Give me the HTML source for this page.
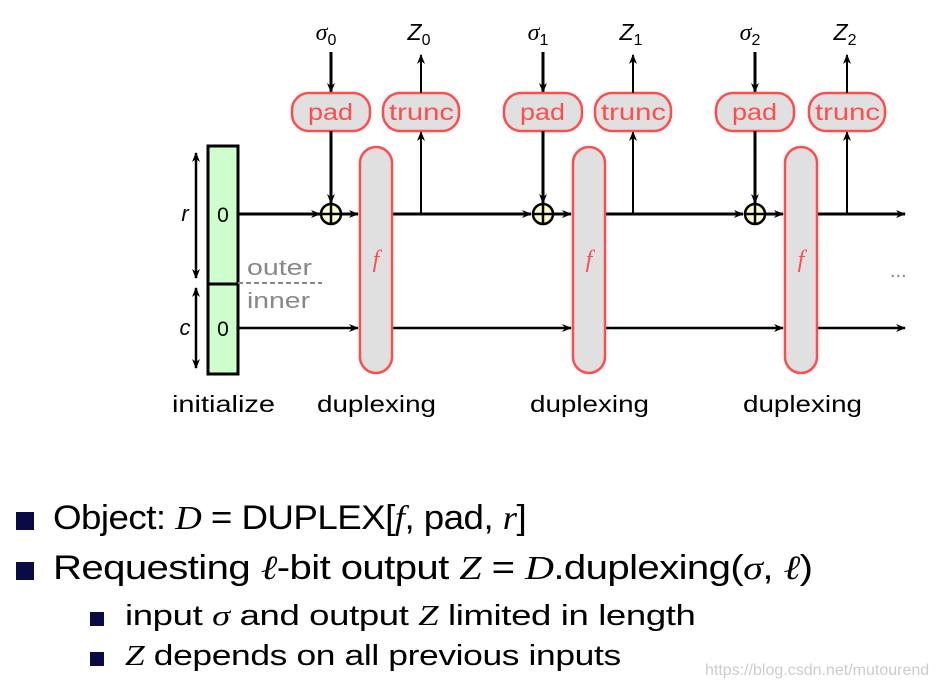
<!DOCTYPE html>
<html><head><meta charset="utf-8"><style>
body{margin:0;background:#fff;width:946px;height:691px;overflow:hidden;position:relative;font-family:"Liberation Sans","DejaVu Sans",sans-serif}
.t{position:absolute;white-space:nowrap;color:#000;transform-origin:0 0}
.sq{position:absolute;background:#0a0a45}
i{font-family:"Liberation Serif",serif}
</style></head><body>
<svg width="946" height="480" style="position:absolute;left:0;top:0" font-family="Liberation Sans, DejaVu Sans, sans-serif">
<defs><marker id="a" markerWidth="10" markerHeight="8" refX="9" refY="4" orient="auto" markerUnits="userSpaceOnUse"><path d="M0,0 L10,4 L0,8 L3,4z" fill="#000"/></marker></defs>
<rect x="208" y="146" width="30" height="228" fill="#ccffcc" stroke="#000" stroke-width="3"/>
<line x1="208" y1="284" x2="238" y2="284" stroke="#000" stroke-width="3"/>
<text x="223" y="222" font-size="21" text-anchor="middle">0</text>
<text x="223" y="336" font-size="21" text-anchor="middle">0</text>
<line x1="196" y1="214" x2="196" y2="153" stroke="#000" stroke-width="2.5" marker-end="url(#a)"/>
<line x1="196" y1="214" x2="196" y2="278" stroke="#000" stroke-width="2.5" marker-end="url(#a)"/>
<line x1="196" y1="328" x2="196" y2="288" stroke="#000" stroke-width="2.5" marker-end="url(#a)"/>
<line x1="196" y1="328" x2="196" y2="368" stroke="#000" stroke-width="2.5" marker-end="url(#a)"/>
<text x="185" y="221" font-size="22" font-style="italic" text-anchor="middle">r</text>
<text x="185" y="335" font-size="22" font-style="italic" text-anchor="middle">c</text>
<line x1="238" y1="283" x2="322" y2="283" stroke="#888" stroke-width="2" stroke-dasharray="5,3"/>
<text x="247" y="275" font-size="22" fill="#888" textLength="65" lengthAdjust="spacingAndGlyphs">outer</text>
<text x="247" y="308" font-size="22" fill="#888" textLength="63" lengthAdjust="spacingAndGlyphs">inner</text>
<text x="172" y="412" font-size="23" textLength="103" lengthAdjust="spacingAndGlyphs">initialize</text>
<line x1="238" y1="214" x2="320" y2="214" stroke="#000" stroke-width="3" marker-end="url(#a)"/>
<line x1="238" y1="328" x2="358" y2="328" stroke="#000" stroke-width="2.5" marker-end="url(#a)"/>
<line x1="341" y1="214" x2="358" y2="214" stroke="#000" stroke-width="3" marker-end="url(#a)"/>
<line x1="392" y1="214" x2="531" y2="214" stroke="#000" stroke-width="3" marker-end="url(#a)"/>
<line x1="553" y1="214" x2="571" y2="214" stroke="#000" stroke-width="3" marker-end="url(#a)"/>
<line x1="605" y1="214" x2="743" y2="214" stroke="#000" stroke-width="3" marker-end="url(#a)"/>
<line x1="765" y1="214" x2="783" y2="214" stroke="#000" stroke-width="3" marker-end="url(#a)"/>
<line x1="817" y1="214" x2="905" y2="214" stroke="#000" stroke-width="3" marker-end="url(#a)"/>
<line x1="392" y1="328" x2="571" y2="328" stroke="#000" stroke-width="2.5" marker-end="url(#a)"/>
<line x1="605" y1="328" x2="783" y2="328" stroke="#000" stroke-width="2.5" marker-end="url(#a)"/>
<line x1="817" y1="328" x2="905" y2="328" stroke="#000" stroke-width="2.5" marker-end="url(#a)"/>
<g id="st0">
<line x1="331" y1="52" x2="331" y2="92" stroke="#000" stroke-width="3" marker-end="url(#a)"/>
<rect x="292" y="93" width="78" height="38" rx="17" fill="#e0e0e0" stroke="#ff4d4d" stroke-width="2.5"/>
<text x="308" y="120" font-size="23" fill="#ff4d4d" textLength="45" lengthAdjust="spacingAndGlyphs">pad</text>
<line x1="331" y1="131" x2="331" y2="203" stroke="#000" stroke-width="3" marker-end="url(#a)"/>
<circle cx="331" cy="214" r="10" fill="#ffffcc" stroke="#000" stroke-width="2.5"/>
<line x1="321" y1="214" x2="341" y2="214" stroke="#000" stroke-width="2.5"/><line x1="331" y1="204" x2="331" y2="224" stroke="#000" stroke-width="2.5"/>
<rect x="360" y="147" width="32" height="226" rx="16" fill="#e0e0e0" stroke="#ff4d4d" stroke-width="2.5"/>
<text x="376" y="267" font-size="24" fill="#ff4d4d" font-style="italic" text-anchor="middle" font-family="Liberation Serif, serif">f</text>
<line x1="421" y1="214" x2="421" y2="132" stroke="#000" stroke-width="2" marker-end="url(#a)"/>
<rect x="383" y="93" width="76" height="38" rx="17" fill="#e0e0e0" stroke="#ff4d4d" stroke-width="2.5"/>
<text x="389" y="120" font-size="23" fill="#ff4d4d" textLength="65" lengthAdjust="spacingAndGlyphs">trunc</text>
<line x1="421" y1="93" x2="421" y2="55" stroke="#000" stroke-width="2" marker-end="url(#a)"/>
<text x="326" y="40" font-size="24" font-style="italic" text-anchor="middle" font-family="Liberation Serif, serif">σ<tspan font-size="16" dy="5" font-style="normal" font-family="Liberation Sans, sans-serif">0</tspan></text>
<text x="419" y="40" font-size="23" font-style="italic" text-anchor="middle">Z<tspan font-size="16" dy="5" font-style="normal">0</tspan></text>
<text x="317" y="412" font-size="23" textLength="119" lengthAdjust="spacingAndGlyphs">duplexing</text>
</g>
<g transform="translate(212,0)">
<line x1="331" y1="52" x2="331" y2="92" stroke="#000" stroke-width="3" marker-end="url(#a)"/>
<rect x="292" y="93" width="78" height="38" rx="17" fill="#e0e0e0" stroke="#ff4d4d" stroke-width="2.5"/>
<text x="308" y="120" font-size="23" fill="#ff4d4d" textLength="45" lengthAdjust="spacingAndGlyphs">pad</text>
<line x1="331" y1="131" x2="331" y2="203" stroke="#000" stroke-width="3" marker-end="url(#a)"/>
<circle cx="331" cy="214" r="10" fill="#ffffcc" stroke="#000" stroke-width="2.5"/>
<line x1="321" y1="214" x2="341" y2="214" stroke="#000" stroke-width="2.5"/><line x1="331" y1="204" x2="331" y2="224" stroke="#000" stroke-width="2.5"/>
<rect x="361" y="147" width="32" height="226" rx="16" fill="#e0e0e0" stroke="#ff4d4d" stroke-width="2.5"/>
<text x="377" y="267" font-size="24" fill="#ff4d4d" font-style="italic" text-anchor="middle" font-family="Liberation Serif, serif">f</text>
<line x1="421" y1="214" x2="421" y2="132" stroke="#000" stroke-width="2" marker-end="url(#a)"/>
<rect x="383" y="93" width="76" height="38" rx="17" fill="#e0e0e0" stroke="#ff4d4d" stroke-width="2.5"/>
<text x="389" y="120" font-size="23" fill="#ff4d4d" textLength="65" lengthAdjust="spacingAndGlyphs">trunc</text>
<line x1="421" y1="93" x2="421" y2="55" stroke="#000" stroke-width="2" marker-end="url(#a)"/>
<text x="326" y="40" font-size="24" font-style="italic" text-anchor="middle" font-family="Liberation Serif, serif">σ<tspan font-size="16" dy="5" font-style="normal" font-family="Liberation Sans, sans-serif">1</tspan></text>
<text x="419" y="40" font-size="23" font-style="italic" text-anchor="middle">Z<tspan font-size="16" dy="5" font-style="normal">1</tspan></text>
<text x="318" y="412" font-size="23" textLength="119" lengthAdjust="spacingAndGlyphs">duplexing</text>
</g>
<g transform="translate(424,0)">
<line x1="331" y1="52" x2="331" y2="92" stroke="#000" stroke-width="3" marker-end="url(#a)"/>
<rect x="292" y="93" width="78" height="38" rx="17" fill="#e0e0e0" stroke="#ff4d4d" stroke-width="2.5"/>
<text x="308" y="120" font-size="23" fill="#ff4d4d" textLength="45" lengthAdjust="spacingAndGlyphs">pad</text>
<line x1="331" y1="131" x2="331" y2="203" stroke="#000" stroke-width="3" marker-end="url(#a)"/>
<circle cx="331" cy="214" r="10" fill="#ffffcc" stroke="#000" stroke-width="2.5"/>
<line x1="321" y1="214" x2="341" y2="214" stroke="#000" stroke-width="2.5"/><line x1="331" y1="204" x2="331" y2="224" stroke="#000" stroke-width="2.5"/>
<rect x="361" y="147" width="32" height="226" rx="16" fill="#e0e0e0" stroke="#ff4d4d" stroke-width="2.5"/>
<text x="377" y="267" font-size="24" fill="#ff4d4d" font-style="italic" text-anchor="middle" font-family="Liberation Serif, serif">f</text>
<line x1="423" y1="214" x2="423" y2="132" stroke="#000" stroke-width="2" marker-end="url(#a)"/>
<rect x="385" y="93" width="76" height="38" rx="17" fill="#e0e0e0" stroke="#ff4d4d" stroke-width="2.5"/>
<text x="391" y="120" font-size="23" fill="#ff4d4d" textLength="65" lengthAdjust="spacingAndGlyphs">trunc</text>
<line x1="423" y1="93" x2="423" y2="55" stroke="#000" stroke-width="2" marker-end="url(#a)"/>
<text x="326" y="40" font-size="24" font-style="italic" text-anchor="middle" font-family="Liberation Serif, serif">σ<tspan font-size="16" dy="5" font-style="normal" font-family="Liberation Sans, sans-serif">2</tspan></text>
<text x="421" y="40" font-size="23" font-style="italic" text-anchor="middle">Z<tspan font-size="16" dy="5" font-style="normal">2</tspan></text>
<text x="319" y="412" font-size="23" textLength="119" lengthAdjust="spacingAndGlyphs">duplexing</text>
</g>
<text x="890" y="277" font-size="20" fill="#888">...</text>
</svg>
<div class="sq" style="left:16px;top:512px;width:18px;height:18px"></div>
<div class="t" style="left:53px;top:499px;font-size:34px;letter-spacing:-0.5px;transform:scaleX(1.08)">Object: <i>D</i> = DUPLEX[<i>f</i>, pad, <i>r</i>]</div>
<div class="sq" style="left:16px;top:562px;width:18px;height:18px"></div>
<div class="t" style="left:53px;top:549px;font-size:34px;letter-spacing:-0.5px;transform:scaleX(1.18)">Requesting <i>ℓ</i>-bit output <i>Z</i> = <i>D</i>.duplexing(<i>σ</i>, <i>ℓ</i>)</div>
<div class="sq" style="left:90px;top:612px;width:14px;height:14px"></div>
<div class="t" style="left:125px;top:600px;font-size:29px;letter-spacing:-0.3px;transform:scaleX(1.26)">input <i>σ</i> and output <i>Z</i> limited in length</div>
<div class="sq" style="left:90px;top:652px;width:14px;height:14px"></div>
<div class="t" style="left:125px;top:640px;font-size:29px;letter-spacing:-0.3px;transform:scaleX(1.22)"><i>Z</i> depends on all previous inputs</div>
<div class="t" style="left:705px;top:662px;font-size:16px;color:#ccc">https://blog.csdn.net/mutourend</div>
</body></html>
